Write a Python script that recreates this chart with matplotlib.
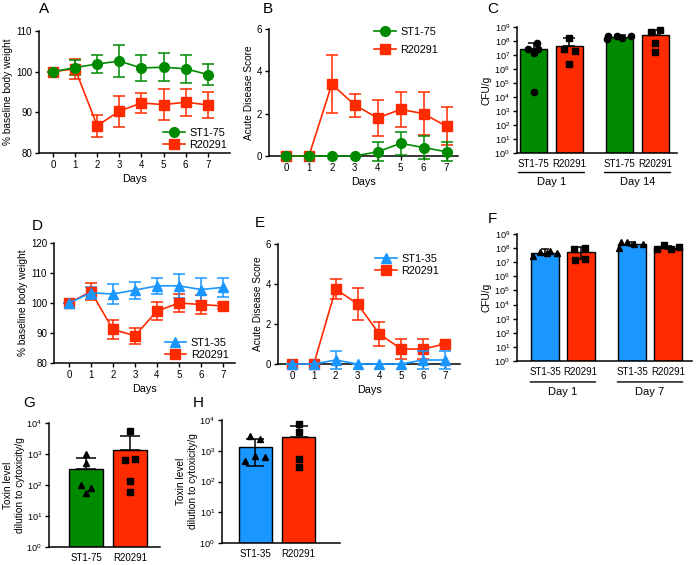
import matplotlib
matplotlib.use("Agg")
import matplotlib.pyplot as plt
from matplotlib.lines import Line2D
from matplotlib.ticker import LogLocator, LogFormatterSciNotation, NullLocator

plt.rcParams['font.family'] = ['Liberation Sans', 'DejaVu Sans']
plt.rcParams['mathtext.fontset'] = 'custom'
plt.rcParams['mathtext.rm'] = 'Liberation Sans'
plt.rcParams['mathtext.it'] = 'Liberation Sans'

GREEN = '#008a00'
RED = '#ff2a00'
BLUE = '#1a96ff'

days = [0, 1, 2, 3, 4, 5, 6, 7]

# Panel A: body weight, ST1-75 vs R20291
a_st175 = [100, 101.0, 101.9, 102.6, 100.9, 101.1, 100.7, 99.3]
a_st175_err = [0, 1.9, 2.2, 3.9, 3.1, 3.4, 3.4, 2.7]
a_r20291 = [100, 100.7, 86.7, 90.3, 92.3, 91.9, 92.5, 91.8]
a_r20291_err = [0, 2.4, 2.7, 3.8, 2.5, 3.9, 3.3, 3.1]

# Panel B: acute disease score
b_st175 = [0, 0, 0, 0, 0.2, 0.6, 0.4, 0.2]
b_st175_err = [0, 0, 0, 0, 0.45, 0.55, 0.55, 0.45]
b_r20291 = [0, 0, 3.4, 2.4, 1.8, 2.2, 2.0, 1.4]
b_r20291_err = [0, 0, 1.35, 0.55, 0.85, 0.84, 1.0, 0.9]

# Panel C: CFU/g
c_labels = ['ST1-75', 'R20291', 'ST1-75', 'R20291']
c_groups = ['Day 1', 'Day 14']
c_means = [2.6e7, 4.6e7, 1.9e8, 2.6e8]
c_err_up = [4.5e7, 1.3e8, 6e7, 3.8e8]
c_err_lo = [0, 0, 5e7, 0]
c_points = [[2.8e7, 7e7, 1.3e7, 2.6e7, 2.4e4],
            [1.7e8, 2.7e7, 1.9e7, 2.3e6],
            [2.4e8, 2.4e8, 1.6e8, 2.2e8, 1.3e8],
            [6.2e8, 4.2e8, 7e7, 1.7e7]]

# Panel D: body weight, ST1-35 vs R20291
d_st135 = [100, 103.4, 103.0, 104.3, 105.7, 105.7, 104.5, 105.2]
d_st135_err = [0, 2.0, 3.3, 2.8, 2.7, 4.1, 3.7, 3.2]
d_r20291 = [100, 103.8, 91.2, 89.1, 97.3, 100.0, 99.5, 99.0]
d_r20291_err = [0, 2.9, 3.1, 2.7, 3.0, 3.1, 3.3, 1.0]

# Panel E: acute disease score
e_st135 = [0, 0, 0.2, 0, 0, 0, 0.2, 0.2]
e_st135_err = [0, 0, 0.45, 0, 0, 0, 0.45, 0.45]
e_r20291 = [0, 0, 3.75, 3.0, 1.5, 0.75, 0.75, 1.0]
e_r20291_err = [0, 0, 0.5, 0.8, 0.58, 0.5, 0.5, 0.0]

# Panel F: CFU/g
f_labels = ['ST1-35', 'R20291', 'ST1-35', 'R20291']
f_groups = ['Day 1', 'Day 7']
f_means = [4.8e7, 5.0e7, 1.9e8, 1.1e8]
f_err_up = [3.2e7, 6.5e7, 9e7, 3.5e7]
f_err_lo = [1.5e7, 3.4e7, 5e7, 2.5e7]
f_points = [[2.8e7, 5.6e7, 4.8e7, 6.6e7, 4.3e7],
            [8.1e7, 1.07e8, 1.45e7, 1.6e7],
            [1.07e8, 2.5e8, 2.6e8, 1.95e8, 1.86e8],
            [8.1e7, 1.6e8, 8e7, 1.26e8]]

# Panel G: toxin level, ST1-75 vs R20291
g_labels = ['ST1-75', 'R20291']
g_means = [330, 1300]
g_err_up = [440, 2400]
g_err_lo = [0, 0]
g_points = [[1000, 500, 100, 83, 56],
            [5400, 650, 700, 130, 58]]

# Panel H: toxin level, ST1-35 vs R20291
h_labels = ['ST1-35', 'R20291']
h_means = [1370, 2800]
h_err_up = [1080, 3800]
h_err_lo = [1050, 0]
h_points = [[3000, 2350, 480, 680, 650],
            [7400, 4000, 530, 290]]

# horizontal scatter of individual points within each bar (layout only)
c_jitter = [[-0.15, 0.1, 0, 0.12, 0], [0, -0.15, 0.15, 0],
            [-0.33, -0.08, 0.08, 0.33, -0.36], [0.12, -0.12, 0, 0]]
f_jitter = [[-0.35, -0.14, 0.06, 0.14, 0.33], [-0.2, 0.12, -0.15, 0.12],
            [-0.37, -0.33, -0.15, 0.06, 0.3], [-0.31, -0.11, 0.1, 0.31]]
g_jitter = [[0, 0, -0.12, 0.12, 0], [0, -0.11, 0.11, 0, 0]]
h_jitter = [[-0.11, 0.12, -0.23, 0, 0.23], [0, 0, 0, 0]]

W, H = 700, 565
fig = plt.figure(figsize=(7.0, 5.65), dpi=100)

TICK_FS = 7
LAB_FS = 7.3


def add_ax(left, right, top, bottom):
    return fig.add_axes([left / W, 1 - bottom / H, (right - left) / W, (bottom - top) / H])


def style(ax):
    for s in ['top', 'right']:
        ax.spines[s].set_visible(False)
    for s in ['left', 'bottom']:
        ax.spines[s].set_linewidth(1.1)
    ax.tick_params(axis='both', labelsize=TICK_FS, width=1.0, length=3, direction='out', pad=2)


def panel_letter(x, y, s):
    fig.text(x / W, 1 - y / H, s, fontsize=11, ha='center', va='center')


def line_panel(ax, s1, e1, c1, m1, s2, e2, c2, m2, labels, ylim, yticks, xlim, ylabel, legkw, order_first=2):
    ms = 7
    ax.errorbar(days, s2, yerr=e2, color=c2, marker=m2, ms=ms, lw=1.2, capsize=4,
                elinewidth=1.1, capthick=1.1, zorder=3, clip_on=False)
    ax.errorbar(days, s1, yerr=e1, color=c1, marker=m1, ms=ms, lw=1.2, capsize=4,
                elinewidth=1.1, capthick=1.1, zorder=3 if order_first == 2 else 4, clip_on=False)
    ax.set_ylim(*ylim)
    ax.set_yticks(yticks)
    ax.set_xlim(*xlim)
    ax.set_xticks(days)
    ax.set_xlabel('Days', fontsize=LAB_FS + 0.5, labelpad=3)
    ax.set_ylabel(ylabel, fontsize=LAB_FS, labelpad=2)
    style(ax)
    handles = [Line2D([], [], color=c1, marker=m1, ms=ms, lw=1.2),
               Line2D([], [], color=c2, marker=m2, ms=ms, lw=1.2)]
    kw = dict(frameon=False, fontsize=7.8, handlelength=2.0, handletextpad=0.4,
              labelspacing=0.2, borderaxespad=0.2)
    kw.update(legkw)
    ax.legend(handles, labels, **kw)


def bar_panel(ax, positions, means, err_lo, err_up, points, jitter, colors, markers,
              tick_labels, ylim_exp, xlim, ylabel, width, capsize, ms=4.5, ylabelpad=2):
    ax.set_yscale('log')
    for i, p in enumerate(positions):
        ax.bar(p, means[i] - 10 ** ylim_exp[0], width=width, color=colors[i], edgecolor='black',
               linewidth=1.0, zorder=2, bottom=10 ** ylim_exp[0])
        pts = points[i]
        ax.plot([p + o for o in jitter[i]], pts, linestyle='none', marker=markers[i], color='black',
                ms=ms, zorder=4, clip_on=False)
        ax.errorbar([p], [means[i]], yerr=[[err_lo[i]], [err_up[i]]], color='black', lw=0,
                    elinewidth=1.1, capsize=capsize, capthick=1.1, zorder=3)
    ax.set_ylim(10 ** ylim_exp[0], 10 ** ylim_exp[1])
    ax.yaxis.set_major_locator(LogLocator(base=10, numticks=20))
    ax.yaxis.set_minor_locator(NullLocator())
    ax.yaxis.set_major_formatter(LogFormatterSciNotation())
    ax.set_xlim(*xlim)
    ax.set_xticks(positions)
    ax.set_xticklabels(tick_labels)
    ax.set_ylabel(ylabel, fontsize=LAB_FS, labelpad=ylabelpad)
    style(ax)
    ax.tick_params(axis='y', labelsize=6.6)
    ax.tick_params(axis='x', length=0, pad=4)


def group_labels(ax, positions, groups, yline, ytext):
    for g, (a, b) in zip(groups, [(positions[0], positions[1]), (positions[2], positions[3])]):
        ax.annotate('', xy=(a - 0.42, yline), xytext=(b + 0.42, yline),
                    xycoords=('data', 'axes fraction'), textcoords=('data', 'axes fraction'),
                    arrowprops=dict(arrowstyle='-', lw=1.0, color='black', shrinkA=0, shrinkB=0),
                    annotation_clip=False)
        ax.annotate(g, xy=((a + b) / 2, ytext), xycoords=('data', 'axes fraction'),
                    ha='center', va='center', fontsize=LAB_FS + 0.7, annotation_clip=False)


# ---- Panel A
axA = add_ax(39, 230, 31, 153)
line_panel(axA, a_st175, a_st175_err, GREEN, 'o', a_r20291, a_r20291_err, RED, 's',
           ['ST1-75', 'R20291'], (80, 110), [80, 90, 100, 110], (-0.63, 8.0),
           '% baseline body weight', dict(loc='lower right', bbox_to_anchor=(1.02, -0.03)))
panel_letter(44, 9, 'A')

# ---- Panel B
axB = add_ax(269, 458, 29, 156)
line_panel(axB, b_st175, b_st175_err, GREEN, 'o', b_r20291, b_r20291_err, RED, 's',
           ['ST1-75', 'R20291'], (0, 6), [0, 2, 4, 6], (-0.74, 7.5),
           'Acute Disease Score', dict(loc='upper right', bbox_to_anchor=(0.93, 1.07), labelspacing=0.75),
           order_first=1)
panel_letter(268, 9, 'B')

# ---- Panel C
axC = add_ax(517, 677, 27, 153)
c_pos = [0, 1, 2.4, 3.4]
bar_panel(axC, c_pos, c_means, c_err_lo, c_err_up, c_points, c_jitter,
          [GREEN, RED, GREEN, RED], ['o', 's', 'o', 's'], c_labels, (0, 9), (-0.46, 4.0), 'CFU/g', 0.75, 4.3)
group_labels(axC, c_pos, c_groups, -0.155, -0.232)
panel_letter(493, 9, 'C')

# ---- Panel D
axD = add_ax(54, 235, 243, 363)
line_panel(axD, d_st135, d_st135_err, BLUE, '^', d_r20291, d_r20291_err, RED, 's',
           ['ST1-35', 'R20291'], (80, 120), [80, 90, 100, 110, 120], (-0.68, 7.55),
           '% baseline body weight', dict(loc='lower right', bbox_to_anchor=(1.0, -0.03)))
panel_letter(37, 226, 'D')

# ---- Panel E
axE = add_ax(278, 460, 244, 364)
line_panel(axE, e_st135, e_st135_err, BLUE, '^', e_r20291, e_r20291_err, RED, 's',
           ['ST1-35', 'R20291'], (0, 6), [0, 2, 4, 6], (-0.64, 7.69),
           'Acute Disease Score', dict(loc='upper right', bbox_to_anchor=(0.92, 0.97)), order_first=1)
panel_letter(260, 223, 'E')

# ---- Panel F
axF = add_ax(517, 692, 234, 361)
f_pos = [0, 1, 2.45, 3.45]
bar_panel(axF, f_pos, f_means, f_err_lo, f_err_up, f_points, f_jitter,
          [BLUE, RED, BLUE, RED], ['^', 's', '^', 's'], f_labels, (0, 9), (-0.79, 4.13), 'CFU/g', 0.79, 3.2)
group_labels(axF, f_pos, f_groups, -0.165, -0.244)
panel_letter(492, 219, 'F')

# ---- Panel G
axG = add_ax(49, 160, 423, 547)
bar_panel(axG, [0, 1], g_means, g_err_lo, g_err_up, g_points, g_jitter,
          [GREEN, RED], ['^', 's'], g_labels, (0, 4), (-0.84, 1.68),
          'Toxin level\ndilution to cytoxicity/g', 0.77, 7, ylabelpad=1)
panel_letter(29, 403, 'G')

# ---- Panel H
axH = add_ax(222, 340, 420, 543)
bar_panel(axH, [0, 1], h_means, h_err_lo, h_err_up, h_points, h_jitter,
          [BLUE, RED], ['^', 's'], h_labels, (0, 4), (-0.76, 1.95),
          'Toxin level\ndilution to cytoxicity/g', 0.76, 6.5, ylabelpad=1)
panel_letter(198, 403, 'H')

fig.savefig('out.png', dpi=100)
